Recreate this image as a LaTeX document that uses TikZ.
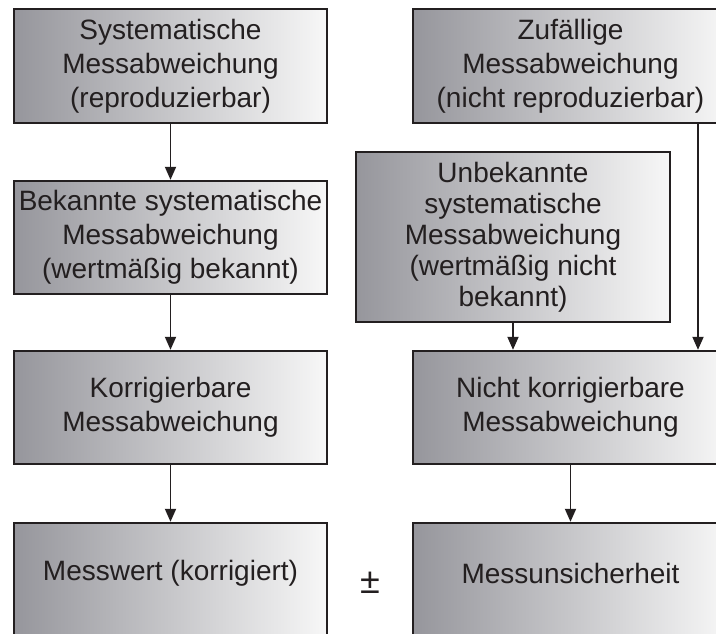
\documentclass[tikz,border=0pt]{standalone}
\usepackage{fontspec}
\setmainfont{Liberation Sans}
\usetikzlibrary{arrows.meta}
\definecolor{gl}{RGB}{150,150,156}
\definecolor{gr}{RGB}{247,247,247}
\definecolor{ink}{RGB}{35,31,32}
\begin{document}
\begin{tikzpicture}[x=1pt,y=-1pt,
  box/.style={draw=ink, line width=2.4pt, left color=gl, right color=gr,
    minimum width=313pt, align=center, inner sep=0pt, text=ink,
    font=\fontsize{28}{34}\selectfont},
  lbl/.style={text=ink, inner sep=0pt, font=\fontsize{28}{34}\selectfont},
  arr/.style={-{Triangle[length=13pt,width=11pt]}, line width=1.8pt, draw=ink}]
\useasboundingbox (0,0) rectangle (716,633);
\clip (0,0) rectangle (716,633);
% left column
\node[box, minimum height=114pt] (A) at (170.5,66) {Systematische\\Messabweichung\\(reproduzierbar)};
\node[box, minimum height=113pt] (B) at (170.5,237.5) {Bekannte systematische\\Messabweichung\\(wertmäßig bekannt)};
\node[box, minimum height=113pt] (C) at (170.5,407.5) {Korrigierbare\\Messabweichung};
\node[box, minimum height=114pt] (D) at (170.5,580) {};
\node[lbl] (Dt) at (170.5,573) {Messwert (korrigiert)};
% right column
\node[box, minimum width=315pt, minimum height=114pt] (E) at (570.5,66) {Zufällige\\Messabweichung\\(nicht reproduzierbar)};
\node[box, minimum width=314pt, minimum height=170pt, font=\fontsize{28}{31}\selectfont] (F) at (513,237) {Unbekannte\\systematische\\Messabweichung\\(wertmäßig nicht\\bekannt)};
\node[box, minimum width=315pt, minimum height=113pt] (G) at (570.5,407.5) {Nicht korrigierbare\\Messabweichung};
\node[box, minimum width=315pt, minimum height=114pt] (H) at (570.5,580) {};
\node[lbl] (Ht) at (570.5,573) {Messunsicherheit};
\node[lbl, font=\fontsize{36}{40}\selectfont] (pm) at (370,583) {±};
% connectors
\coordinate (ex) at (698,0);
\draw[arr] (A.south) -- (B.north);
\draw[arr] (B.south) -- (C.north);
\draw[arr] (C.south) -- (D.north);
\draw[arr] (F.south) -- (F.south |- G.north);
\draw[arr] (E.south -| ex) -- (G.north -| ex);
\draw[arr] (G.south) -- (H.north);
\end{tikzpicture}
\end{document}
